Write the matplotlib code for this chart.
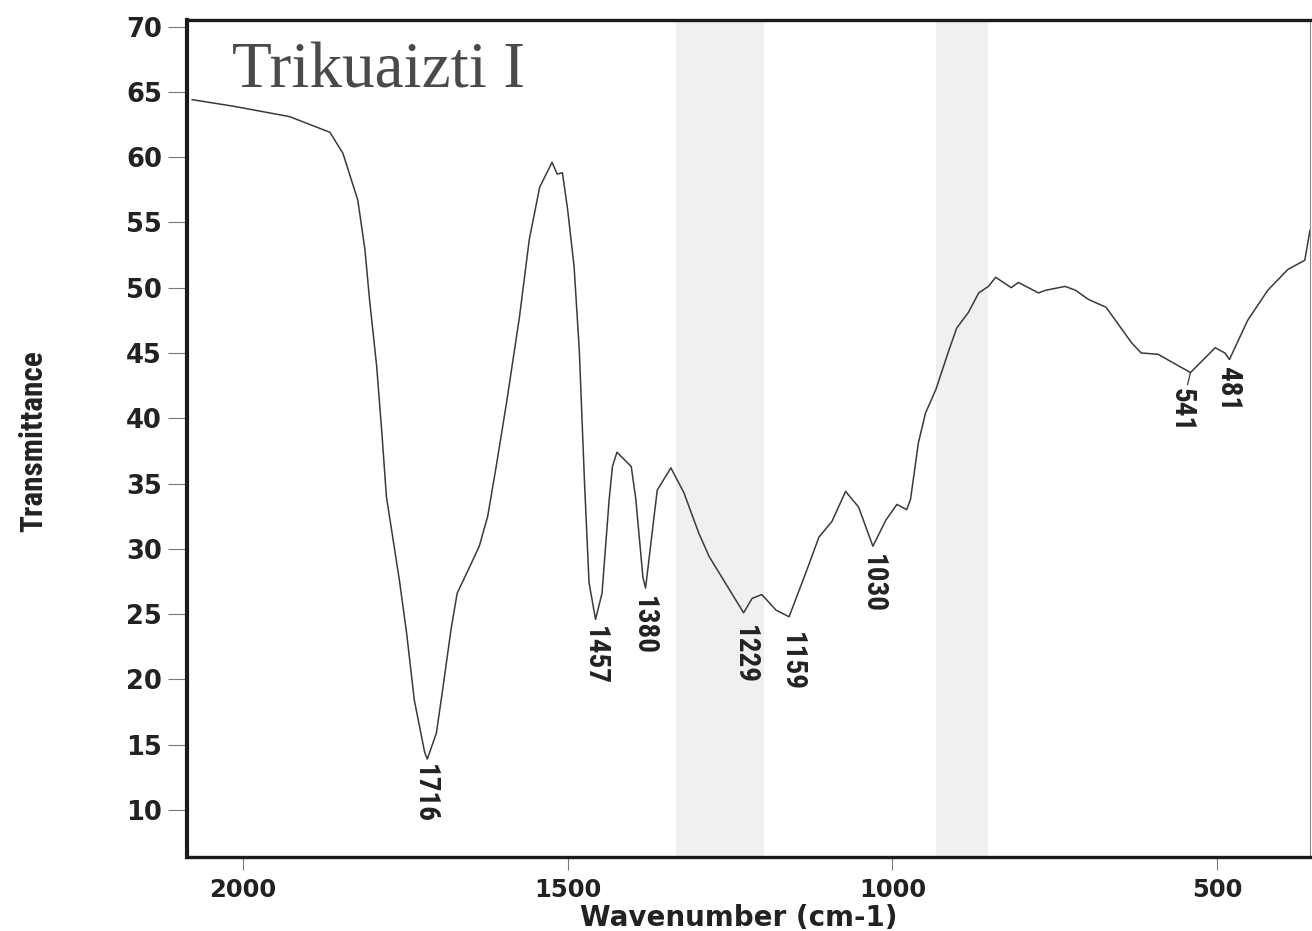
import matplotlib
matplotlib.use('Agg')
import matplotlib.pyplot as plt

# Spectrum values (wavenumber cm-1, transmittance)
wavenumber = [2078, 2015, 1928, 1866, 1846, 1823, 1812, 1805, 1794, 1786,
              1779, 1759, 1748, 1736, 1720, 1716, 1702, 1693, 1679, 1670,
              1651, 1636, 1623, 1610, 1594, 1574, 1559, 1543, 1524, 1516,
              1508, 1500, 1490, 1482, 1477, 1474, 1467, 1457, 1447, 1436,
              1431, 1424, 1402, 1395, 1384, 1380, 1362, 1341, 1321, 1298,
              1282, 1229, 1216, 1201, 1179, 1159, 1133, 1113, 1093, 1072,
              1052, 1030, 1010, 993, 978, 972, 960, 949, 933, 913,
              901, 883, 867, 852, 841, 817, 806, 775, 764, 734,
              718, 698, 671, 632, 617, 591, 541, 503, 488, 481,
              453, 422, 391, 365, 357]
transmittance = [64.4, 63.9, 63.1, 61.9, 60.3, 56.7, 52.9, 49.1, 44.0, 38.9,
                 34.0, 27.6, 23.6, 18.4, 14.4, 13.9, 15.9, 19.0, 24.0, 26.6,
                 28.6, 30.2, 32.5, 36.3, 41.2, 47.8, 53.7, 57.7, 59.6, 58.7,
                 58.8, 56.0, 51.6, 45.2, 38.9, 35.1, 27.4, 24.6, 26.6, 33.8,
                 36.3, 37.4, 36.3, 33.8, 27.8, 27.0, 34.5, 36.2, 34.3, 31.2,
                 29.4, 25.1, 26.2, 26.5, 25.3, 24.8, 28.2, 30.9, 32.1, 34.4,
                 33.2, 30.2, 32.2, 33.4, 33.0, 33.8, 38.1, 40.4, 42.2, 45.2,
                 46.9, 48.1, 49.6, 50.1, 50.8, 50.0, 50.4, 49.6, 49.8, 50.1,
                 49.8, 49.1, 48.5, 45.8, 45.0, 44.9, 43.5, 45.4, 45.0, 44.5,
                 47.5, 49.8, 51.4, 52.1, 54.4]

peak_labels = ['1716', '1457', '1380', '1229', '1159', '1030', '541', '481']
peak_wn = [1716, 1457, 1380, 1229, 1159, 1030, 541, 481]
peak_t = [13.9, 24.6, 27.0, 25.1, 24.8, 30.2, 43.5, 44.5]
# label offsets in pixels (dx, dy)
peak_offsets = [(-3, -5), (-1, -7), (-2, -8), (1, -12), (3, -15), (0, -8), (-9, -15), (-1, -7)]

x_ticks = [2000, 1500, 1000, 500]
y_ticks = [10, 15, 20, 25, 30, 35, 40, 45, 50, 55, 60, 65, 70]

narrow = ['Roboto Condensed', 'Roboto', 'DejaVu Sans']

fig = plt.figure(figsize=(13.12, 9.31), dpi=100)
ax = fig.add_axes([187 / 1312, 1 - 857 / 931, 1123 / 1312, 837 / 931])

# faint grey stripes from the scan
ax.axvspan(1333, 1198, color='#f0f0f0', zorder=0, lw=0)
ax.axvspan(933, 852, color='#f0f0f0', zorder=0, lw=0)

ax.plot(wavenumber, transmittance, color='#3a3a3a', lw=1.1)

for lab, wn, t, (dx, dy) in zip(peak_labels, peak_wn, peak_t, peak_offsets):
    arrow = None
    if lab == '541':
        arrow = dict(arrowstyle='-', color='#3a3a3a', lw=0.9, shrinkA=0, shrinkB=0)
    ax.annotate(lab, xy=(wn, t), xytext=(dx, dy), textcoords='offset pixels',
                rotation=-90, ha='center', va='top', fontsize=21,
                fontweight='bold', fontstretch='condensed', family=narrow,
                color='#222222', arrowprops=arrow)

ax.set_xlim(2086, 357)
ax.set_ylim(6.4, 70.5)
ax.set_xticks(x_ticks)
ax.set_yticks(y_ticks)
ax.tick_params(axis='y', direction='out', length=14, width=0.8, color='#777777',
               pad=4, labelsize=18.5)
ax.tick_params(axis='x', direction='out', length=9, width=0.8, color='#777777',
               pad=6, labelsize=17.5)
for lbl in ax.get_xticklabels() + ax.get_yticklabels():
    lbl.set_fontweight('bold')
    lbl.set_color('#222222')

ax.spines['left'].set_linewidth(3.0)
ax.spines['bottom'].set_linewidth(2.4)
ax.spines['top'].set_linewidth(2.4)
ax.spines['right'].set_linewidth(0.8)
ax.spines['right'].set_color('#888888')
for s in ['left', 'bottom', 'top']:
    ax.spines[s].set_color('#1a1a1a')

ax.text(0.04, 0.919, 'Trikuaizti I', transform=ax.transAxes, fontsize=47,
        family='Liberation Serif', color='#4a4a4a', va='baseline', ha='left')

fig.text(33 / 1312, 1 - 441 / 931, 'Transmittance', rotation=90, ha='center',
         va='center', fontsize=22.5, fontweight='bold', fontstretch='condensed',
         family=narrow, color='#222222')
fig.text(739 / 1312, 1 - 918 / 931, 'Wavenumber (cm-1)', ha='center', va='center',
         fontsize=20, fontweight='bold', color='#222222')

fig.savefig('out.png', dpi=100, facecolor='white')
